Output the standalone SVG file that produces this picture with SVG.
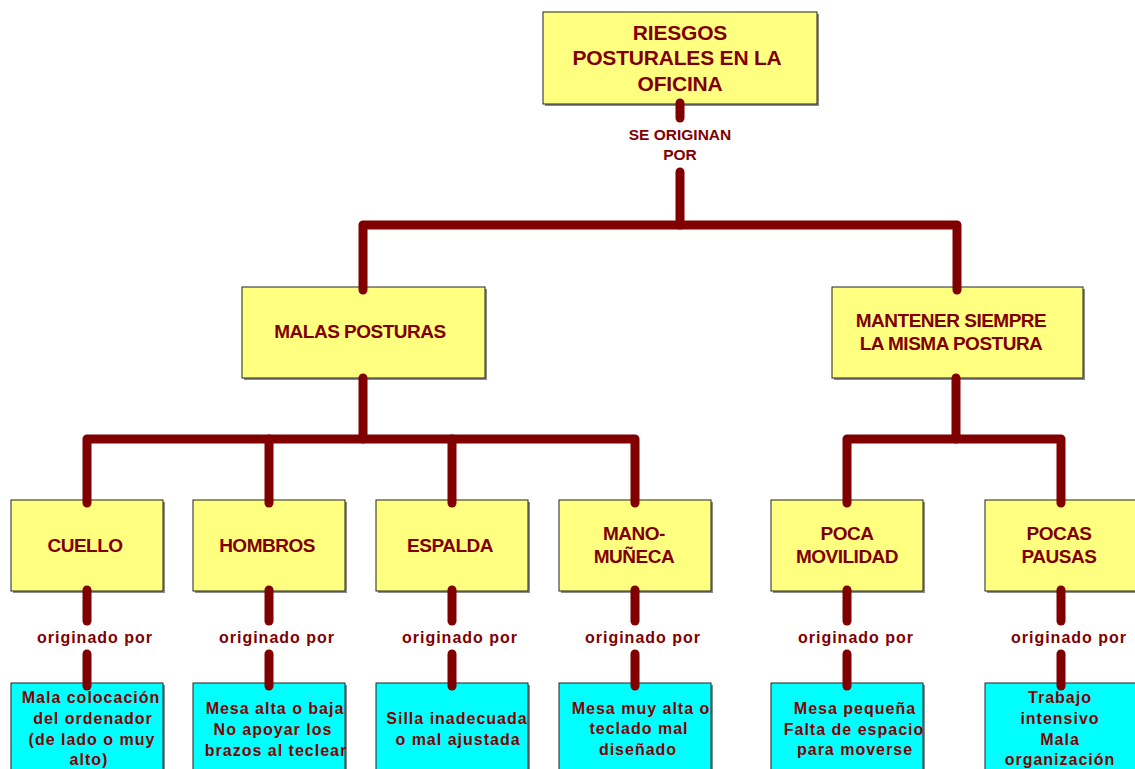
<svg xmlns="http://www.w3.org/2000/svg" width="1135" height="769" viewBox="0 0 1135 769">
<defs>
<style>
.bg{fill:#ffffff}
.sh{fill:#8c8c8c}
.y{fill:#ffff80;stroke:#222;stroke-width:1}
.c{fill:#00ffff;stroke:#222;stroke-width:1}
.t{font-family:"Liberation Sans",Arial,sans-serif;font-weight:bold;fill:#800000;text-anchor:middle;dominant-baseline:central}
.t21{font-size:21px;letter-spacing:-0.2px}
.t19{font-size:19px;letter-spacing:-0.5px}
.t16{font-size:16px;letter-spacing:1px}
.lbl{font-size:15.5px}
.ln{fill:none;stroke:#800000;stroke-width:9;stroke-linecap:round;stroke-linejoin:round}
</style>
</defs>
<rect class="bg" x="0" y="0" width="1135" height="769"/>

<g id="n-root">
<rect class="sh" x="545" y="14" width="274" height="92"/>
<rect class="y" x="543" y="12" width="274" height="92"/>
<text class="t t21" x="680" y="32">RIESGOS</text>
<text class="t t21" x="677" y="57">POSTURALES EN LA</text>
<text class="t t21" x="680" y="83">OFICINA</text>
</g>

<g id="n-malas">
<rect class="sh" x="244" y="289" width="243" height="91"/>
<rect class="y" x="242" y="287" width="243" height="91"/>
<text class="t t19" x="360" y="331">MALAS POSTURAS</text>
</g>

<g id="n-mantener">
<rect class="sh" x="834" y="289" width="251" height="91"/>
<rect class="y" x="832" y="287" width="251" height="91"/>
<text class="t t19" x="951" y="320">MANTENER SIEMPRE</text>
<text class="t t19" x="951" y="343">LA MISMA POSTURA</text>
</g>

<g id="n-cuello">
<rect class="sh" x="13" y="502" width="152" height="91"/>
<rect class="y" x="11" y="500" width="152" height="91"/>
<text class="t t19" x="85" y="545">CUELLO</text>
</g>
<g id="n-hombros">
<rect class="sh" x="195" y="502" width="152" height="91"/>
<rect class="y" x="193" y="500" width="152" height="91"/>
<text class="t t19" x="267" y="545">HOMBROS</text>
</g>
<g id="n-espalda">
<rect class="sh" x="378" y="502" width="152" height="91"/>
<rect class="y" x="376" y="500" width="152" height="91"/>
<text class="t t19" x="450" y="545">ESPALDA</text>
</g>
<g id="n-mano">
<rect class="sh" x="561" y="502" width="152" height="91"/>
<rect class="y" x="559" y="500" width="152" height="91"/>
<text class="t t19" x="634" y="533">MANO-</text>
<text class="t t19" x="634" y="556">MUÑECA</text>
</g>
<g id="n-poca">
<rect class="sh" x="773" y="502" width="152" height="91"/>
<rect class="y" x="771" y="500" width="152" height="91"/>
<text class="t t19" x="847" y="533">POCA</text>
<text class="t t19" x="847" y="556">MOVILIDAD</text>
</g>
<g id="n-pocas">
<rect class="sh" x="987" y="502" width="152" height="91"/>
<rect class="y" x="985" y="500" width="152" height="91"/>
<text class="t t19" x="1059" y="533">POCAS</text>
<text class="t t19" x="1059" y="556">PAUSAS</text>
</g>

<g id="n-c1">
<rect class="sh" x="13" y="685" width="152" height="92"/>
<rect class="c" x="11" y="683" width="152" height="92"/>
<text class="t t16" x="91" y="697">Mala colocación</text>
<text class="t t16" x="93" y="718">del ordenador</text>
<text class="t t16" x="92" y="739">(de lado o muy</text>
<text class="t t16" x="89" y="759">alto)</text>
</g>
<g id="n-c2">
<rect class="sh" x="195" y="685" width="152" height="92"/>
<rect class="c" x="193" y="683" width="152" height="92"/>
<text class="t t16" x="275" y="708">Mesa alta o baja</text>
<text class="t t16" x="273" y="729">No apoyar los</text>
<text class="t t16" x="276" y="750">brazos al teclear</text>
</g>
<g id="n-c3">
<rect class="sh" x="378" y="685" width="152" height="92"/>
<rect class="c" x="376" y="683" width="152" height="92"/>
<text class="t t16" x="457" y="718">Silla inadecuada</text>
<text class="t t16" x="458" y="739">o mal ajustada</text>
</g>
<g id="n-c4">
<rect class="sh" x="561" y="685" width="152" height="92"/>
<rect class="c" x="559" y="683" width="152" height="92"/>
<text class="t t16" x="641" y="708">Mesa muy alta o</text>
<text class="t t16" x="639" y="728">teclado mal</text>
<text class="t t16" x="638" y="749">diseñado</text>
</g>
<g id="n-c5">
<rect class="sh" x="773" y="685" width="152" height="92"/>
<rect class="c" x="771" y="683" width="152" height="92"/>
<text class="t t16" x="855" y="708">Mesa pequeña</text>
<text class="t t16" x="854" y="729">Falta de espacio</text>
<text class="t t16" x="855" y="749">para moverse</text>
</g>
<g id="n-c6">
<rect class="sh" x="987" y="685" width="152" height="92"/>
<rect class="c" x="985" y="683" width="152" height="92"/>
<text class="t t16" x="1060" y="697">Trabajo</text>
<text class="t t16" x="1060" y="718">intensivo</text>
<text class="t t16" x="1060" y="739">Mala</text>
<text class="t t16" x="1060" y="759">organización</text>
</g>

<g id="connectors">
<path class="ln" d="M680 103 V118"/>
<path class="ln" d="M680 172 V225"/>
<path class="ln" d="M363 290 V225 H957 V290"/>
<path class="ln" d="M363 378 V439"/>
<path class="ln" d="M87 503 V439 H635 V503"/>
<path class="ln" d="M269 439 V503"/>
<path class="ln" d="M452 439 V503"/>
<path class="ln" d="M956 378 V439"/>
<path class="ln" d="M847 503 V439 H1061 V503"/>
<path class="ln" d="M87 590 V621"/><path class="ln" d="M87 654 V686"/>
<path class="ln" d="M269 590 V621"/><path class="ln" d="M269 654 V686"/>
<path class="ln" d="M452 590 V621"/><path class="ln" d="M452 654 V686"/>
<path class="ln" d="M635 590 V621"/><path class="ln" d="M635 654 V686"/>
<path class="ln" d="M847 590 V621"/><path class="ln" d="M847 654 V686"/>
<path class="ln" d="M1061 590 V621"/><path class="ln" d="M1061 654 V686"/>
<text class="t lbl" x="680" y="134">SE ORIGINAN</text>
<text class="t lbl" x="680" y="154">POR</text>
<text class="t t16" x="95" y="637">originado por</text>
<text class="t t16" x="277" y="637">originado por</text>
<text class="t t16" x="460" y="637">originado por</text>
<text class="t t16" x="643" y="637">originado por</text>
<text class="t t16" x="856" y="637">originado por</text>
<text class="t t16" x="1069" y="637">originado por</text>
</g>
</svg>
